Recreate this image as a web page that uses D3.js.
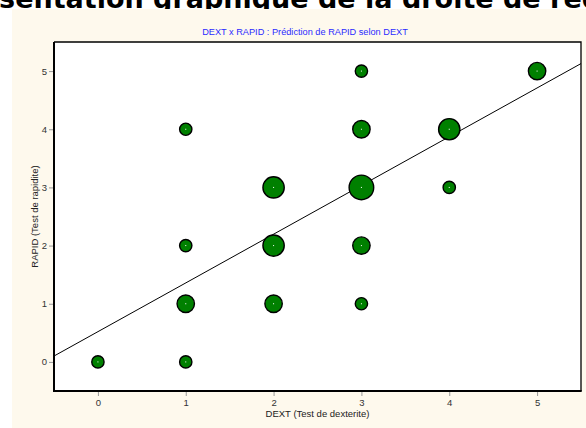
<!DOCTYPE html>
<html><head><meta charset="utf-8">
<script src="https://cdn.jsdelivr.net/npm/d3@7"></script>
<style>body{margin:0;background:#fff;overflow:hidden} svg{display:block}</style>
</head><body>
<svg id="c" width="586" height="428"></svg>
<script>
// ---- data ----
const dextValues  = [0, 1, 1, 1, 1, 2, 2, 2, 3, 3, 3, 3, 3, 4, 4, 5];
const rapidValues = [0, 0, 1, 2, 4, 1, 2, 3, 1, 2, 3, 4, 5, 3, 4, 5];
const counts      = [1, 1, 2, 1, 1, 2, 3, 3, 1, 2, 4, 2, 1, 1, 3, 2];
const xTickLabels = [0, 1, 2, 3, 4, 5];
const yTickLabels = [0, 1, 2, 3, 4, 5];
const regIntercept = 0.52;
const regSlope = 0.838;
const headingText = "Représentation graphique de la droite de régression";
const titleText = "DEXT x RAPID : Prédiction de RAPID selon DEXT";
const xTitle = "DEXT (Test de dexterite)";
const yTitle = "RAPID (Test de rapidite)";

const points = dextValues.map((d, i) => ({x: d, y: rapidValues[i], n: counts[i]}));

const svg = d3.select("#c");
const W = 586, H = 428;
const m = {left: 54, top: 42, right: 581, bottom: 391};
const dom = [-0.5, 5.5];
const x = d3.scaleLinear().domain(dom).range([m.left, m.right]);
const y = d3.scaleLinear().domain(dom).range([m.bottom, m.top]);
const r = d3.scaleSqrt().domain([0, 4]).range([0, 12.3]);
const font = "'Liberation Sans', Arial, sans-serif";

// heading (partially cut, as in the reference)
svg.append("text").attr("x", -91).attr("y", 7.5)
  .attr("font-family", "'DejaVu Sans', Verdana, sans-serif")
  .attr("font-weight", "bold").attr("font-size", 27).attr("fill", "#000")
  .text(headingText);

// cream panel
svg.append("rect").attr("x", 12).attr("y", 9).attr("width", W - 12).attr("height", H - 9)
  .attr("fill", "#fef9ed");

// title
svg.append("text").attr("x", 305).attr("y", 35).attr("text-anchor", "middle")
  .attr("font-family", font).attr("font-size", 9.2).attr("fill", "#2b2bff")
  .text(titleText);

// plot area
svg.append("rect").attr("x", m.left).attr("y", m.top)
  .attr("width", m.right - m.left).attr("height", m.bottom - m.top).attr("fill", "#fff");

const minor = d3.range(-0.25, 5.5, 0.25).filter(v => Math.abs(v - Math.round(v)) > 1e-6);

// x axis ticks
const gx = svg.append("g").attr("transform", `translate(0,${m.bottom})`);
gx.call(d3.axisBottom(x).tickValues(minor).tickSize(3).tickFormat(""));
gx.call(d3.axisBottom(x).tickValues(xTickLabels).tickSize(5).tickPadding(3).tickFormat(d3.format("d")));
gx.selectAll(".domain").remove();
gx.selectAll("line").attr("stroke", "#999");
gx.selectAll("text").attr("font-family", font).attr("font-size", 9.5).attr("fill", "#333");

// y axis ticks
const gy = svg.append("g").attr("transform", `translate(${m.left},0)`);
gy.call(d3.axisLeft(y).tickValues(minor).tickSize(3).tickFormat(""));
gy.call(d3.axisLeft(y).tickValues(yTickLabels).tickSize(5).tickPadding(2).tickFormat(d3.format("d")));
gy.selectAll(".domain").remove();
gy.selectAll("line").attr("stroke", "#999");
gy.selectAll("text").attr("font-family", font).attr("font-size", 9.5).attr("fill", "#333");

// axis titles
svg.append("text").attr("x", (m.left + m.right) / 2).attr("y", 417).attr("text-anchor", "middle")
  .attr("font-family", font).attr("font-size", 9.5).attr("fill", "#222").text(xTitle);
svg.append("text").attr("transform", `translate(38,${(m.top + m.bottom) / 2}) rotate(-90)`)
  .attr("text-anchor", "middle")
  .attr("font-family", font).attr("font-size", 9.5).attr("fill", "#222").text(yTitle);

// regression line
svg.append("clipPath").attr("id", "pc").append("rect")
  .attr("x", m.left).attr("y", m.top).attr("width", m.right - m.left).attr("height", m.bottom - m.top);
svg.append("line").attr("clip-path", "url(#pc)")
  .attr("x1", x(dom[0])).attr("y1", y(regIntercept + regSlope * dom[0]))
  .attr("x2", x(dom[1])).attr("y2", y(regIntercept + regSlope * dom[1]))
  .attr("stroke", "#000").attr("stroke-width", 1);

// bubbles
const gp = svg.append("g");
gp.selectAll("circle.b").data(points).join("circle").attr("class", "b")
  .attr("cx", d => x(d.x)).attr("cy", d => y(d.y)).attr("r", d => r(d.n))
  .attr("fill", "#008000").attr("stroke", "#000").attr("stroke-width", 1.4);
gp.selectAll("rect.c").data(points).join("rect").attr("class", "c")
  .attr("x", d => x(d.x) - 0.5).attr("y", d => y(d.y) - 0.5).attr("width", 1).attr("height", 1)
  .attr("fill", "#fff");

// frame
svg.append("path").attr("d", `M${m.left},${m.top}H${m.right}V${m.bottom}`)
  .attr("fill", "none").attr("stroke", "#000").attr("stroke-width", 1.3);
svg.append("path").attr("d", `M${m.left},${m.top}V${m.bottom}H${m.right + 0.7}`)
  .attr("fill", "none").attr("stroke", "#000").attr("stroke-width", 2);
</script>
</body></html>
